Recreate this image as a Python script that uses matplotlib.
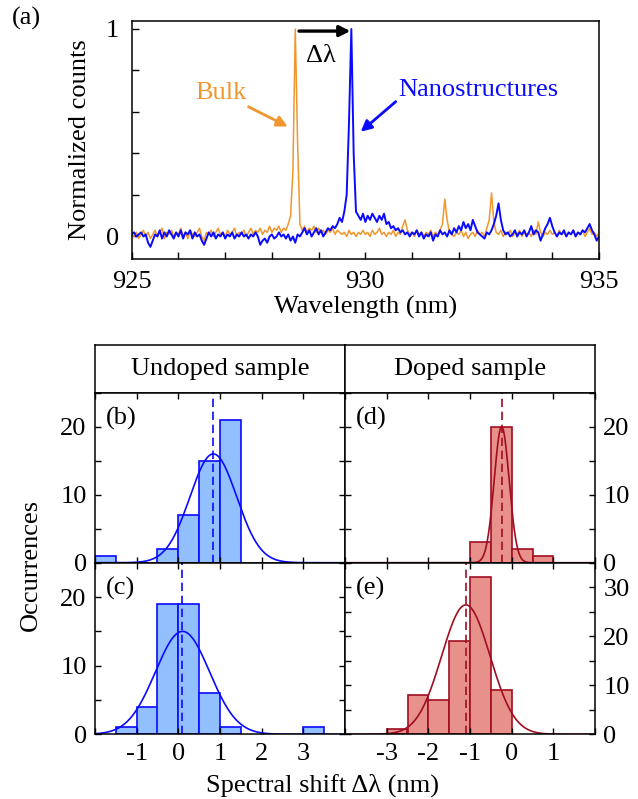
import numpy as np
import matplotlib
matplotlib.use("Agg")
import matplotlib.pyplot as plt
from matplotlib.ticker import MultipleLocator, FuncFormatter

plt.rcParams['font.family'] = ['Liberation Serif', 'DejaVu Serif']
plt.rcParams['axes.unicode_minus'] = False
plt.rcParams['font.size'] = 19
plt.rcParams['axes.linewidth'] = 1.1

# ---- panel (a): normalized spectra, 925 -> 935 nm, 0.05 nm steps ----
wl_start = 925.0
wl_step = 0.05
bulk = [
    0.01, 0.00, 0.02, -0.01, 0.01, 0.03, 0.00, 0.02, -0.01, 0.01,
    0.03, 0.00, 0.02, 0.04, -0.01, 0.02, 0.01, 0.03, 0.00, 0.02,
    0.01, 0.04, 0.00, 0.02, -0.01, 0.03, 0.01, 0.00, 0.02, 0.04,
    0.00, -0.02, 0.02, 0.01, 0.03, 0.00, 0.02, 0.04, 0.01, 0.02,
    0.00, 0.03, 0.01, 0.02, 0.04, 0.00, 0.02, 0.01, 0.03, 0.00,
    0.02, 0.04, 0.01, 0.03, 0.02, 0.04, 0.01, 0.03, 0.02, 0.05,
    0.02, 0.04, 0.03, 0.05, 0.02, 0.04, 0.03, 0.06, 0.10, 0.32,
    1.00, 0.45, 0.06, 0.03, 0.05, 0.02, 0.04, 0.03, 0.05, 0.02,
    0.04, 0.02, 0.03, 0.01, 0.03, 0.02, 0.04, 0.01, 0.03, 0.02,
    0.01, 0.02, 0.00, 0.03, 0.01, 0.02, 0.00, 0.02, 0.01, 0.03,
    0.01, 0.02, 0.00, 0.03, 0.01, 0.02, 0.04, 0.01, 0.02, 0.00,
    0.02, 0.01, 0.03, 0.00, 0.02, 0.01, 0.05, 0.08, 0.03, 0.01,
    0.02, 0.00, 0.03, 0.01, 0.02, 0.00, 0.02, 0.01, 0.03, 0.00,
    0.02, 0.01, 0.03, 0.06, 0.18, 0.08, 0.02, 0.01, 0.00, 0.02,
    0.01, 0.03, 0.00, 0.02, -0.01, 0.01, 0.02, 0.00, 0.03, 0.01,
    0.02, 0.00, 0.04, 0.08, 0.21, 0.07, 0.02, 0.01, 0.03, 0.00,
    0.02, 0.01, 0.03, 0.00, 0.02, 0.01, 0.03, 0.00, 0.02, 0.01,
    0.02, 0.00, 0.03, 0.01, 0.07, 0.02, 0.00, 0.02, 0.01, 0.03,
    0.01, 0.02, 0.00, 0.03, 0.01, 0.02, 0.00, 0.02, 0.01, 0.03,
    0.00, 0.02, 0.01, 0.03, 0.00, 0.02, 0.04, 0.01, 0.02, 0.00,
    0.02,
]
nano = [
    0.01, 0.02, 0.00, 0.01, 0.02, 0.00, 0.01, -0.03, -0.05, -0.02,
    0.01, 0.00, 0.03, -0.01, 0.02, 0.00, 0.03, 0.01, -0.01, 0.02,
    0.00, 0.03, -0.01, 0.02, 0.01, 0.03, -0.01, 0.02, 0.00, 0.01,
    -0.02, -0.04, -0.01, 0.02, 0.00, 0.02, -0.01, 0.01, 0.00, 0.02,
    -0.01, 0.01, 0.00, 0.02, -0.01, 0.01, 0.00, 0.02, 0.00, 0.01,
    -0.01, 0.01, 0.00, 0.02, 0.00, -0.04, -0.02, -0.01, -0.03, 0.00,
    0.01, -0.01, 0.00, 0.02, 0.00, 0.01, -0.01, 0.01, -0.02, 0.00,
    -0.03, 0.01, 0.00, 0.02, 0.04, 0.01, 0.03, 0.00, 0.02, 0.04,
    0.01, 0.03, 0.00, 0.02, 0.04, 0.03, 0.05, 0.04, 0.06, 0.09,
    0.07, 0.12, 0.20, 0.55, 1.00, 0.40, 0.12, 0.10, 0.08, 0.11,
    0.07, 0.10, 0.08, 0.11, 0.09, 0.07, 0.10, 0.08, 0.11, 0.06,
    0.07, 0.04, 0.05, 0.03, 0.04, 0.02, 0.03, 0.01, 0.02, 0.00,
    0.02, 0.01, 0.03, 0.00, 0.02, -0.01, 0.01, 0.00, 0.02, -0.02,
    0.01, 0.00, 0.03, 0.01, 0.02, 0.00, 0.03, 0.01, 0.04, 0.02,
    0.05, 0.03, 0.07, 0.04, 0.06, 0.03, 0.08, 0.05, 0.02, 0.01,
    0.00, -0.01, 0.02, 0.01, 0.03, 0.06, 0.10, 0.16, 0.08, 0.03,
    0.01, 0.02, 0.00, 0.01, 0.03, 0.00, 0.02, 0.01, 0.03, 0.00,
    0.02, 0.05, 0.01, 0.03, 0.02, -0.02, 0.01, 0.04, 0.06, 0.09,
    0.05, 0.02, 0.00, 0.02, 0.01, 0.03, 0.00, 0.02, 0.01, 0.03,
    0.00, 0.02, 0.01, 0.03, 0.02, 0.04, 0.06, 0.03, 0.01, -0.02,
    0.00,
]
wavelength = wl_start + wl_step * np.arange(len(bulk))

# ---- panels (b)-(e): histograms, 0.5 nm bins (left edges) ----
b_left = [-2.0, -0.5, 0.0, 0.5, 1.0]
b_counts = [1, 2, 7, 15, 21]
c_left = [-1.5, -1.0, -0.5, 0.0, 0.5, 1.0, 3.0]
c_counts = [1, 4, 19, 19, 6, 1, 1]
d_left = [-1.0, -0.5, 0.0, 0.5]
d_counts = [3, 20, 2, 1]
e_left = [-3.0, -2.5, -2.0, -1.5, -1.0, -0.5]
e_counts = [1, 8, 7, 19, 32, 9]

# gaussian fits: amplitude, centre, sigma
b_fit = (16.0, 0.84, 0.56)
c_fit = (15.0, 0.10, 0.65)
d_fit = (20.0, -0.24, 0.18)
e_fit = (26.4, -1.10, 0.58)

orange = '#f0962e'
blue = '#0a0aff'
blue_face = '#92c0ff'
red_edge = '#a00d22'
red_face = '#e8918b'

W, H = 638, 799
fig = plt.figure(figsize=(W / 100, H / 100), dpi=100)


def box(l, t, r, b):
    return [l / W, 1 - b / H, (r - l) / W, (b - t) / H]


# ---------------- (a) ----------------
ax = fig.add_axes(box(131.7, 20.7, 599, 258.7))
ax.plot(wavelength, bulk, color=orange, lw=1.1)
ax.plot(wavelength, nano, color=blue, lw=1.4)
ax.set_xlim(925, 935)
ax.set_ylim(-0.107, 1.04)
ax.xaxis.set_major_locator(MultipleLocator(1))
ax.yaxis.set_major_locator(MultipleLocator(0.2))
ax.xaxis.set_major_formatter(FuncFormatter(lambda v, p: '%d' % round(v) if round(v) % 5 == 0 else ''))
ax.yaxis.set_major_formatter(FuncFormatter(lambda v, p: '%d' % round(v) if abs(v - round(v)) < 1e-6 else ''))
ax.tick_params(direction='in', length=5, width=1, pad=9)
ax.set_xlabel('Wavelength (nm)', labelpad=2)
ax.set_ylabel('Normalized counts')
ax.yaxis.set_label_coords(-0.088, 0.5)

arrow = dict(arrowstyle='-|>', lw=2, mutation_scale=16, shrinkA=0, shrinkB=0)
ax.annotate('', xy=(929.68, 0.99), xytext=(928.58, 0.99),
            arrowprops=dict(arrow, color='black', lw=2.4))
ax.text(929.04, 0.87, 'Δλ', ha='center', va='center')
ax.text(926.9, 0.69, 'Bulk', color=orange, ha='center', va='center')
ax.annotate('', xy=(928.34, 0.53), xytext=(927.5, 0.625), arrowprops=dict(arrow, color=orange))
ax.text(932.42, 0.705, 'Nanostructures', color=blue, ha='center', va='center')
ax.annotate('', xy=(929.9, 0.505), xytext=(930.65, 0.65), arrowprops=dict(arrow, color=blue))
fig.text(12 / W, 1 - 18 / H, '(a)', va='center', ha='left')

# ---------------- headers ----------------
for l, r, title in [(95, 345, 'Undoped sample'), (345, 595, 'Doped sample')]:
    hx = fig.add_axes(box(l, 345, r, 392.7))
    hx.set_xticks([])
    hx.set_yticks([])
    hx.text(0.5, 0.5, title, ha='center', va='center', transform=hx.transAxes)


# ---------------- histograms ----------------
def hist_panel(rect, left, counts, fit, xlim, ylim, face, edge, label, side, xlabels):
    h = fig.add_axes(rect)
    h.bar(left, counts, width=0.5, align='edge', color=face, edgecolor=edge, lw=1.2)
    amp, mu, sig = fit
    xs = np.linspace(xlim[0], xlim[1], 400)
    h.plot(xs, amp * np.exp(-(xs - mu) ** 2 / (2 * sig ** 2)), color=edge, lw=1.2)
    h.axvline(mu, color=edge, lw=1.2, dashes=(5, 2.8))
    h.set_xlim(*xlim)
    h.set_ylim(*ylim)
    h.xaxis.set_major_locator(MultipleLocator(1))
    h.xaxis.set_major_formatter(FuncFormatter(
        lambda v, p: '%d' % round(v) if xlim[0] < v < xlim[1] else ''))
    h.yaxis.set_major_locator(MultipleLocator(5))
    h.yaxis.set_major_formatter(FuncFormatter(lambda v, p: '%d' % v if round(v) % 10 == 0 else ''))
    h.tick_params(direction='in', length=4.5, width=1, top=True, right=True, pad=6,
                  labelleft=(side == 'left'), labelright=(side == 'right'),
                  labelbottom=xlabels)
    h.text(0.045, 0.85, label, transform=h.transAxes, ha='left', va='center')
    return h


hist_panel(box(95, 392.7, 345, 562.7), b_left, b_counts, b_fit, (-2, 4), (0, 25),
           blue_face, blue, '(b)', 'left', False)
hist_panel(box(95, 562.7, 345, 734.3), c_left, c_counts, c_fit, (-2, 4), (0, 25),
           blue_face, blue, '(c)', 'left', True)
hist_panel(box(345, 392.7, 595, 562.7), d_left, d_counts, d_fit, (-4, 2), (0, 25),
           red_face, red_edge, '(d)', 'right', False)
hist_panel(box(345, 562.7, 595, 734.3), e_left, e_counts, e_fit, (-4, 2), (0, 35),
           red_face, red_edge, '(e)', 'right', True)

fig.text(322 / W, 1 - 785 / H, 'Spectral shift Δλ (nm)', ha='center', va='center')
fig.text(31 / W, 1 - 565 / H, 'Occurrences', ha='center', va='center', rotation=90)

fig.savefig('out.png', dpi=100)
